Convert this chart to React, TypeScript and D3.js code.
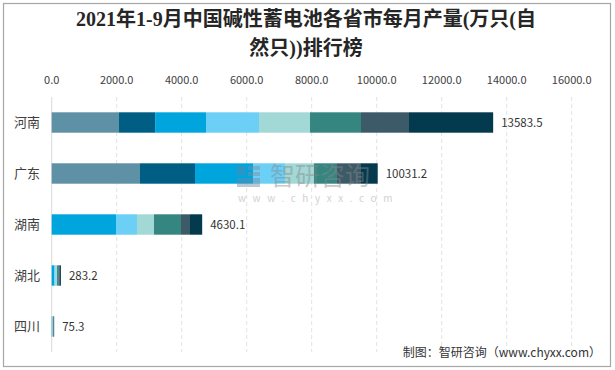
import React from "react";
import * as d3 from "d3";

const provinces = ["河南", "广东", "湖南", "湖北", "四川"];
const months = ["1-2月", "3月", "4月", "5月", "6月", "7月", "8月", "9月"];
const henan = [2071, 1111, 1566, 1630, 1570, 1569, 1477, 2589.5];
const guangdong = [2717, 1692, 1785, 984, 893, 707, 739, 514.2];
const hunan = [0, 0, 1978, 647, 523, 830, 277, 375.1];
const hubei = [0, 0, 75, 50, 40, 38, 35, 45.2];
const sichuan = [0, 0, 15, 10, 10, 12, 13, 15.3];
const ticks = [0, 2000, 4000, 6000, 8000, 10000, 12000, 14000, 16000];
const colors = ["#5e90a6", "#005e84", "#00a5de", "#6ccff6", "#a2d8d6", "#358580", "#3c5a68", "#043a4d"];

const W = 615;
const H = 370;
const M = { left: 51.7, right: 43.3, top: 97, bottom: 18 };

export default function App() {
  const series = [henan, guangdong, hunan, hubei, sichuan];
  const rows = provinces.map((p, i) => {
    const r: any = { province: p };
    months.forEach((m, j) => (r[m] = series[i][j]));
    return r;
  });
  const stacked = d3.stack().keys(months)(rows);
  const x = d3.scaleLinear().domain([0, 16000]).range([M.left, W - M.right]);
  const y = d3.scaleBand().domain(provinces).range([M.top, H - M.bottom]).paddingInner(0.6).paddingOuter(0.3);
  const totals = series.map((s) => d3.sum(s));
  const sans = "'Noto Sans CJK SC', 'Noto Sans', sans-serif";
  const serif = "'Liberation Serif', 'Noto Sans CJK SC', serif";
  return (
    <svg width={W} height={H} style={{ position: "absolute", left: 0, top: 0, background: "#fff" }}>
      <rect x={3.5} y={3.5} width={607} height={363} fill="#fff" stroke="#a6a6a6" strokeWidth={1.2} />
      <text x={306} y={26} textAnchor="middle" fontSize={20} fontWeight="bold" fill="#262626" fontFamily={serif}>
        2021年1-9月中国碱性蓄电池各省市每月产量(万只(自
      </text>
      <text x={306} y={55} textAnchor="middle" fontSize={20} fontWeight="bold" fill="#262626" fontFamily={serif}>
        然只))排行榜
      </text>
      {ticks.map((t) => (
        <g key={t}>
          <text x={x(t)} y={84} textAnchor="middle" fontSize={11} fill="#404040" fontFamily={sans}>
            {t.toFixed(1)}
          </text>
          {t > 0 && (
            <line x1={x(t)} x2={x(t)} y1={M.top} y2={H - M.bottom} stroke="#e2e2e2" strokeDasharray="4,3" />
          )}
        </g>
      ))}
      <line x1={x(0)} x2={x(0)} y1={M.top} y2={H - M.bottom} stroke="#d9d9d9" strokeWidth={1} />
      {stacked.map((s, k) => (
        <g key={s.key} fill={colors[k]}>
          {s.map((d: any) => (
            <rect key={d.data.province} x={x(d[0])} y={y(d.data.province)} width={Math.max(0, x(d[1]) - x(d[0]))} height={y.bandwidth()} />
          ))}
        </g>
      ))}
      {/* watermark */}
      <g opacity={0.45}>
        <rect x={237} y={166} width={9} height={9} fill="#5f86a8" />
        <rect x={248} y={166} width={12} height={4} fill="#7c8fa0" />
        <rect x={248} y={172} width={12} height={4} fill="#7c8fa0" />
        <rect x={237} y={178} width={23} height={9} fill="#6a8aa6" />
        <text x={270} y={185} fontSize={25} fill="#888" fontFamily={sans}>智研咨询</text>
        <text x={238} y={202} fontSize={10} fill="#999" letterSpacing={6.6} fontFamily={sans}>www.chyxx.com</text>
      </g>
      {provinces.map((p, i) => (
        <g key={p}>
          <text x={40} y={(y(p) as number) + y.bandwidth() / 2 + 4.5} textAnchor="end" fontSize={13} fill="#404040" fontFamily={sans}>
            {p}
          </text>
          <text x={x(totals[i]) + 8} y={(y(p) as number) + y.bandwidth() / 2 + 4} fontSize={11.5} fill="#333" fontFamily={sans}>
            {totals[i].toFixed(1)}
          </text>
        </g>
      ))}
      <text x={601} y={357} textAnchor="end" fontSize={12} fill="#333" fontFamily={sans}>
        制图：智研咨询（www.chyxx.com）
      </text>
    </svg>
  );
}
